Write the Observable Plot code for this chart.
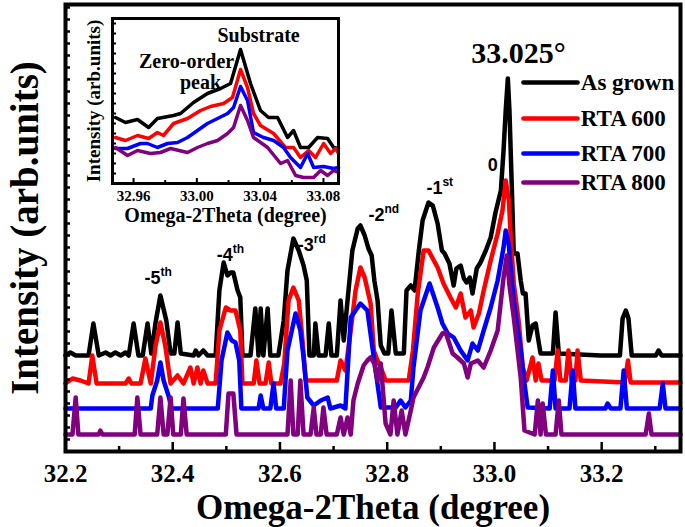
<!DOCTYPE html>
<html><head><meta charset="utf-8">
<script src="https://cdn.jsdelivr.net/npm/d3@7"></script>
<script src="https://cdn.jsdelivr.net/npm/@observablehq/plot@0.6"></script>
<style>
body{margin:0;background:#fff;}
#wrap{position:relative;width:685px;height:527px;overflow:hidden;}
#inset{position:absolute;left:75px;top:10px;}
</style></head><body><div id="wrap"><div id="main"></div><div id="inset"></div></div>
<script>
// ---------- main chart data: [2theta (deg), intensity (arb., offset curves)] ----------
const asGrown = [[32.200,96],[32.209,99],[32.219,96],[32.243,96],[32.252,128],[32.262,96],[32.275,99],[32.284,96],[32.293,99],[32.303,96],[32.312,99],[32.318,96],[32.327,128],[32.336,96],[32.344,96],[32.353,128],[32.360,98],[32.368,129],[32.377,156],[32.388,131],[32.396,98],[32.403,98],[32.409,129],[32.415,98],[32.439,96],[32.443,101],[32.448,96],[32.457,101],[32.465,96],[32.480,96],[32.487,161],[32.495,189],[32.502,176],[32.508,179],[32.513,179],[32.521,161],[32.526,154],[32.530,96],[32.545,96],[32.554,143],[32.560,96],[32.564,143],[32.569,96],[32.577,143],[32.582,96],[32.597,96],[32.607,131],[32.614,181],[32.625,213],[32.635,201],[32.644,186],[32.650,171],[32.655,96],[32.663,96],[32.666,128],[32.672,96],[32.685,96],[32.691,128],[32.696,96],[32.706,96],[32.713,151],[32.719,111],[32.726,151],[32.735,201],[32.745,223],[32.750,226],[32.758,216],[32.765,203],[32.771,196],[32.776,171],[32.782,151],[32.788,106],[32.795,98],[32.802,98],[32.808,141],[32.816,98],[32.831,98],[32.836,161],[32.844,166],[32.851,161],[32.859,201],[32.866,231],[32.877,249],[32.885,246],[32.894,228],[32.902,201],[32.907,198],[32.916,188],[32.924,166],[32.929,183],[32.937,186],[32.943,173],[32.948,169],[32.954,174],[32.959,158],[32.967,183],[32.974,189],[32.984,201],[32.993,214],[33.002,239],[33.012,261],[33.017,301],[33.021,341],[33.025,373],[33.028,341],[33.032,271],[33.036,198],[33.043,198],[33.049,171],[33.053,158],[33.058,158],[33.064,111],[33.071,126],[33.077,128],[33.082,111],[33.086,98],[33.109,98],[33.114,139],[33.120,98],[33.198,96],[33.234,96],[33.239,133],[33.245,141],[33.250,133],[33.256,96],[33.301,96],[33.306,101],[33.312,96],[33.347,96]];
const rta600 = [[32.200,68],[32.213,73],[32.228,71],[32.243,68],[32.250,96],[32.258,68],[32.312,68],[32.318,73],[32.323,68],[32.340,68],[32.349,93],[32.359,68],[32.368,106],[32.377,129],[32.386,106],[32.396,68],[32.409,76],[32.420,68],[32.433,84],[32.439,68],[32.446,84],[32.452,68],[32.457,81],[32.465,68],[32.480,68],[32.487,121],[32.499,144],[32.508,141],[32.517,141],[32.526,121],[32.530,68],[32.551,68],[32.556,91],[32.562,68],[32.573,68],[32.579,89],[32.584,68],[32.601,68],[32.608,88],[32.616,151],[32.625,164],[32.635,151],[32.642,111],[32.648,71],[32.706,71],[32.713,91],[32.722,81],[32.732,121],[32.741,161],[32.750,184],[32.758,174],[32.769,148],[32.775,101],[32.782,91],[32.788,84],[32.797,71],[32.840,71],[32.848,101],[32.857,158],[32.868,201],[32.877,201],[32.894,184],[32.905,168],[32.918,154],[32.928,144],[32.937,158],[32.946,134],[32.956,141],[32.961,124],[32.971,138],[32.980,161],[32.993,191],[33.006,218],[33.015,241],[33.021,271],[33.027,251],[33.030,218],[33.036,168],[33.045,131],[33.053,84],[33.060,71],[33.071,94],[33.077,71],[33.082,88],[33.088,71],[33.112,71],[33.118,101],[33.123,71],[33.133,71],[33.138,101],[33.144,71],[33.151,71],[33.155,101],[33.161,71],[33.243,69],[33.249,91],[33.254,69],[33.347,69]];
const rta700 = [[32.200,43],[32.359,43],[32.362,56],[32.371,71],[32.377,89],[32.383,71],[32.392,56],[32.398,43],[32.484,43],[32.491,91],[32.502,119],[32.510,111],[32.517,109],[32.524,91],[32.528,43],[32.560,43],[32.564,56],[32.569,43],[32.582,43],[32.588,68],[32.593,43],[32.607,43],[32.614,101],[32.629,138],[32.638,121],[32.644,94],[32.651,54],[32.663,46],[32.676,51],[32.689,54],[32.694,43],[32.713,46],[32.722,43],[32.724,61],[32.732,134],[32.750,148],[32.763,141],[32.775,94],[32.788,44],[32.816,44],[32.825,51],[32.834,44],[32.844,51],[32.849,84],[32.862,141],[32.879,168],[32.894,144],[32.903,128],[32.913,118],[32.924,114],[32.937,101],[32.950,91],[32.959,108],[32.969,101],[32.980,121],[32.993,144],[33.006,171],[33.017,204],[33.021,221],[33.027,206],[33.030,184],[33.036,151],[33.049,101],[33.056,68],[33.062,44],[33.103,43],[33.109,81],[33.114,43],[33.140,43],[33.146,81],[33.151,43],[33.207,43],[33.211,48],[33.217,43],[33.235,43],[33.241,81],[33.247,43],[33.308,43],[33.314,68],[33.319,43],[33.347,43]];
const rta800 = [[32.200,17],[32.213,17],[32.219,54],[32.224,17],[32.262,17],[32.265,21],[32.269,17],[32.329,17],[32.334,54],[32.340,17],[32.371,17],[32.377,54],[32.383,17],[32.390,17],[32.396,54],[32.401,17],[32.415,17],[32.420,53],[32.426,17],[32.499,17],[32.504,58],[32.513,58],[32.519,17],[32.614,17],[32.620,71],[32.625,17],[32.633,17],[32.638,71],[32.644,17],[32.657,17],[32.663,44],[32.668,17],[32.676,17],[32.681,44],[32.687,17],[32.706,17],[32.713,34],[32.719,17],[32.726,34],[32.732,17],[32.737,51],[32.745,68],[32.756,86],[32.763,91],[32.769,94],[32.776,88],[32.782,71],[32.788,88],[32.797,28],[32.806,17],[32.812,51],[32.819,17],[32.827,41],[32.834,17],[32.844,41],[32.849,54],[32.868,74],[32.875,84],[32.887,104],[32.903,118],[32.909,119],[32.922,98],[32.931,94],[32.943,88],[32.950,74],[32.956,88],[32.969,91],[32.980,84],[32.993,101],[33.006,121],[33.017,174],[33.023,196],[33.028,166],[33.036,134],[33.049,74],[33.056,21],[33.075,17],[33.081,51],[33.086,17],[33.090,48],[33.096,17],[33.114,17],[33.120,51],[33.125,17],[33.282,17],[33.288,38],[33.293,17],[33.347,17]];

const seriesNames = ["As grown", "RTA 600", "RTA 700", "RTA 800"];
const seriesColors = ["#000000", "#ff0000", "#0000ff", "#800080"];
const xDomain = [32.2, 33.347];
const yDomain = [0, 447];
const xMajorTicks = [32.2, 32.4, 32.6, 32.8, 33.0, 33.2];
const xMinorTicks = [32.3, 32.5, 32.7, 32.9, 33.1, 33.3];
const yMinorTicks = d3.range(12, 447, 12);

// order annotations
const orderX = [32.377, 32.512, 32.663, 32.795, 32.903];
const orderY = [168, 191, 201, 231, 258];
const orderBase = ["-5", "-4", "-3", "-2", "-1"];
const orderSup = ["th", "th", "rd", "nd", "st"];
const zeroLabel = {x: 32.997, y: 281, text: "0"};
const peakLabel = {x: 33.045, y: 389, text: "33.025°"};
// legend rows
const legendX1 = 33.054, legendX2 = 33.155, legendTextX = 33.161;
const legendY = [369, 333, 298, 269];

// ---------- inset data ----------
const inAsGrown = [[32.9486,66],[32.9549,61],[32.9625,64],[32.9695,56],[32.9751,65],[32.9853,68],[32.9897,70],[32.9979,81],[33.0067,90],[33.0150,95],[33.0213,100],[33.0276,134],[33.0339,100],[33.0402,73],[33.0453,66],[33.0510,66],[33.0573,46],[33.0611,53],[33.0655,36],[33.0706,36],[33.0763,46],[33.0826,45],[33.0864,36],[33.0895,35]];
const inRta600 = [[32.9486,46],[32.9549,43],[32.9625,48],[32.9695,45],[32.9751,51],[32.9789,48],[32.9853,60],[32.9941,65],[33.0023,73],[33.0086,77],[33.0169,80],[33.0225,86],[33.0276,114],[33.0320,96],[33.0358,70],[33.0402,58],[33.0485,50],[33.0560,36],[33.0611,36],[33.0655,26],[33.0706,33],[33.0750,26],[33.0801,40],[33.0845,30],[33.0877,35],[33.0895,30]];
const inRta700 = [[32.9486,35],[32.9562,35],[32.9644,40],[32.9688,40],[32.9751,36],[32.9815,40],[32.9878,41],[32.9941,46],[33.0004,53],[33.0067,60],[33.0131,65],[33.0194,70],[33.0232,76],[33.0276,97],[33.0320,83],[33.0358,51],[33.0421,46],[33.0485,43],[33.0548,36],[33.0592,26],[33.0655,16],[33.0700,30],[33.0738,16],[33.0801,17],[33.0864,15],[33.0895,16]];
const inRta800 = [[32.9486,36],[32.9562,28],[32.9625,33],[32.9707,30],[32.9770,31],[32.9834,35],[32.9941,31],[33.0004,36],[33.0067,40],[33.0131,43],[33.0194,50],[33.0232,56],[33.0276,78],[33.0320,63],[33.0358,46],[33.0447,36],[33.0529,20],[33.0573,23],[33.0624,8],[33.0674,6],[33.0738,6],[33.0782,13],[33.0826,8],[33.0864,13],[33.0895,11]];
const inXDomain = [32.9467, 33.0895];
const inYDomain = [0, 165];
const inXTicks = [32.96, 33.00, 33.04, 33.08];
const inXMinor = [32.98, 33.02, 33.06];
const inYMinor = d3.range(10, 165, 10);
const inNotes = [
  {x: 33.0390, y: 148, text: "Substrate"},
  {x: 32.9935, y: 122, text: "Zero-order"},
  {x: 33.0023, y: 101, text: "peak"}
];

const serif = "'Liberation Serif','Times New Roman',serif";
const sans = "'Liberation Sans',Arial,sans-serif";

function toRows(list) {
  return list.flatMap((arr, i) => arr.map(([x, y]) => ({x, y, s: seriesNames[i]})));
}
const mainRows = toRows([asGrown, rta600, rta700, rta800]);
const insetRows = toRows([inAsGrown, inRta600, inRta700, inRta800]);
const colorScale = {domain: seriesNames, range: seriesColors};

const orders = orderX.map((x, i) => ({x, y: orderY[i], base: orderBase[i], sup: orderSup[i]}));
const legend = seriesNames.map((s, i) => ({s, y: legendY[i]}));

const main = Plot.plot({
  width: 685, height: 527,
  marginLeft: 65, marginRight: 5, marginTop: 4, marginBottom: 76,
  x: {domain: xDomain},
  y: {domain: yDomain},
  color: colorScale,
  style: {fontFamily: serif, background: "white"},
  marks: [
    Plot.line(mainRows, {x: "x", y: "y", z: "s", stroke: "s", strokeWidth: 4.5, strokeLinejoin: "round", strokeLinecap: "round"}),
    Plot.link(legend, {x1: legendX1, x2: legendX2, y1: "y", y2: "y", stroke: "s", strokeWidth: 4.5, strokeLinecap: "round"}),
    Plot.text(legend, {x: legendTextX, y: "y", text: "s", textAnchor: "start", fontSize: 23, fontWeight: "bold", fontFamily: serif, fill: "black"}),
    Plot.text(orders, {x: "x", y: "y", text: "base", textAnchor: "end", lineAnchor: "bottom", fontSize: 18, fontWeight: "bold", fontFamily: sans}),
    Plot.text(orders, {x: "x", y: "y", text: "sup", textAnchor: "start", lineAnchor: "bottom", dy: -8, fontSize: 12, fontWeight: "bold", fontFamily: sans}),
    Plot.text([zeroLabel], {x: "x", y: "y", text: "text", lineAnchor: "bottom", fontSize: 18, fontWeight: "bold", fontFamily: sans}),
    Plot.text([peakLabel], {x: "x", y: "y", text: "text", lineAnchor: "bottom", fontSize: 30, fontWeight: "bold", fontFamily: serif}),
    Plot.axisX({ticks: xMajorTicks, tickSize: -9, tickPadding: 22, tickFormat: d => d.toFixed(1), fontSize: 25, fontWeight: "bold", fontFamily: serif, strokeWidth: 2.5, label: null}),
    Plot.axisX({ticks: xMinorTicks, tickSize: -5, tickFormat: () => "", strokeWidth: 2.5, label: null}),
    Plot.axisY({ticks: yMinorTicks, tickSize: -5, tickFormat: () => "", strokeWidth: 2.5, label: null}),
    Plot.frame({stroke: "black", strokeWidth: 4}),
    Plot.text(["Omega-2Theta (degree)"], {frameAnchor: "bottom", lineAnchor: "middle", dy: 56, fontSize: 35, fontWeight: "bold", fontFamily: serif}),
    Plot.text(["Intensity (arb.units)"], {frameAnchor: "left", textAnchor: "middle", lineAnchor: "middle", dx: -40, rotate: -90, fontSize: 39, fontWeight: "bold", fontFamily: serif})
  ]
});
document.getElementById("main").append(main);

const inset = Plot.plot({
  width: 270, height: 220,
  marginLeft: 37, marginRight: 7, marginTop: 8, marginBottom: 47,
  x: {domain: inXDomain},
  y: {domain: inYDomain},
  color: colorScale,
  style: {fontFamily: serif, background: "transparent", overflow: "visible"},
  marks: [
    Plot.frame({fill: "white", stroke: null}),
    Plot.line(insetRows, {x: "x", y: "y", z: "s", stroke: "s", strokeWidth: 3.5, strokeLinejoin: "round"}),
    Plot.text(inNotes, {x: "x", y: "y", text: "text", fontSize: 20, fontWeight: "bold", fontFamily: serif}),
    Plot.axisX({ticks: inXTicks, tickSize: -5, tickPadding: 12, tickFormat: d => d.toFixed(2), fontSize: 15, fontWeight: "bold", fontFamily: serif, strokeWidth: 2, label: null}),
    Plot.axisX({ticks: inXMinor, tickSize: -3, tickFormat: () => "", strokeWidth: 2, label: null}),
    Plot.axisY({ticks: inYMinor, tickSize: -4, tickFormat: () => "", strokeWidth: 2, label: null}),
    Plot.frame({stroke: "black", strokeWidth: 3}),
    Plot.text(["Omega-2Theta (degree)"], {frameAnchor: "bottom", lineAnchor: "middle", dy: 32, fontSize: 20, fontWeight: "bold", fontFamily: serif}),
    Plot.text(["Intensity (arb.units)"], {frameAnchor: "left", textAnchor: "middle", lineAnchor: "middle", dx: -19, rotate: -90, fontSize: 19, fontWeight: "bold", fontFamily: serif})
  ]
});
document.getElementById("inset").append(inset);
</script></body></html>
